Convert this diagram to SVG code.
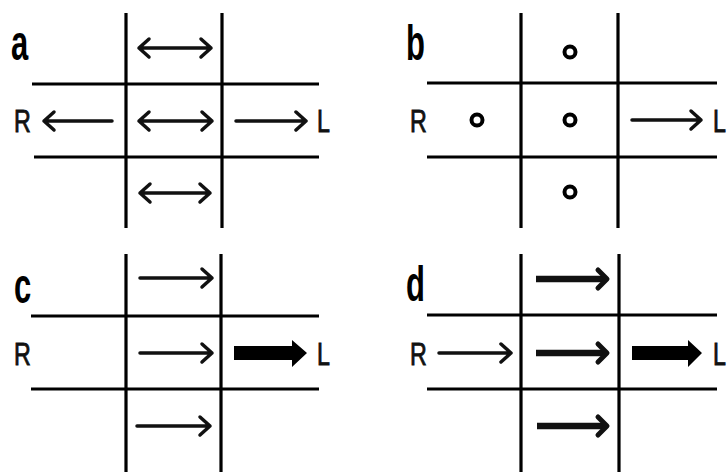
<svg xmlns="http://www.w3.org/2000/svg" width="728" height="472" viewBox="0 0 728 472">
<style>
.grid{stroke:#000;stroke-width:3.2;fill:none;stroke-linecap:butt}
.thin{stroke:#111;stroke-width:3.5;fill:none;stroke-linecap:round;stroke-linejoin:round}
.med{stroke:#111;stroke-width:6.5;fill:none;stroke-linejoin:round}
.medhead{stroke:#111;stroke-width:5;fill:none;stroke-linecap:round;stroke-linejoin:round}
.ring{stroke:#000;stroke-width:4;fill:none}
.lbl{font-family:"Liberation Sans",Arial,sans-serif;font-weight:bold;font-size:50px;fill:#000}
.rl{font-family:"Liberation Sans",Arial,sans-serif;font-size:31px;fill:#111;stroke:#111;stroke-width:0.9}
</style>
<rect width="728" height="472" fill="#fff"/>
<g id="panel-a">
  <path class="grid" d="M126 13V228M222 13V228M32 84H319M34 157H319"/>
  <text class="lbl" transform="translate(11,60) scale(0.62,1)">a</text>
  <text class="rl" transform="translate(14,132) scale(0.75,1)">R</text>
  <text class="rl" transform="translate(317,132) scale(0.75,1)">L</text>
  <path class="thin" d="M139 48H211M149 39L139 48L149 57M201 39L211 48L201 57"/>
  <path class="thin" d="M139 121H212M149 112L139 121L149 130M202 112L212 121L202 130"/>
  <path class="thin" d="M140 193H210M150 184L140 193L150 202M200 184L210 193L200 202"/>
  <path class="thin" d="M112 121H44M54 112L44 121L54 130"/>
  <path class="thin" d="M236 121H306M296 112L306 121L296 130"/>
</g>
<g id="panel-b">
  <path class="grid" d="M521 13V228M618 13V228M427 83H717M427 157H717"/>
  <text class="lbl" transform="translate(406,60) scale(0.62,1)">b</text>
  <text class="rl" transform="translate(410,132) scale(0.75,1)">R</text>
  <text class="rl" transform="translate(713,132) scale(0.75,1)">L</text>
  <circle class="ring" cx="570" cy="52" r="5.5"/>
  <circle class="ring" cx="477" cy="120" r="5.5"/>
  <circle class="ring" cx="570" cy="120" r="5.5"/>
  <circle class="ring" cx="570" cy="192" r="5.5"/>
  <path class="thin" d="M632 120H701M691 111L701 120L691 129"/>
</g>
<g id="panel-c">
  <path class="grid" d="M126 254V472M221 254V472M31 316H319M31 389H319"/>
  <text class="lbl" transform="translate(14,303) scale(0.62,1)">c</text>
  <text class="rl" transform="translate(14,365) scale(0.75,1)">R</text>
  <text class="rl" transform="translate(317,365) scale(0.75,1)">L</text>
  <path class="thin" d="M140 278H212M202 269L212 278L202 287"/>
  <path class="thin" d="M140 353H212M202 344L212 353L202 362"/>
  <path class="thin" d="M137 426H210M200 417L210 426L200 435"/>
  <path fill="#000" d="M234 346H292V340L307 353L292 367V360H234Z"/>
</g>
<g id="panel-d">
  <path class="grid" d="M521 254V472M619 254V472M427 315H717M427 389H717"/>
  <text class="lbl" transform="translate(406,301) scale(0.62,1)">d</text>
  <text class="rl" transform="translate(410,365) scale(0.75,1)">R</text>
  <text class="rl" transform="translate(713,365) scale(0.75,1)">L</text>
  <path class="thin" d="M439 353H511M501 344L511 353L501 362"/>
  <path class="med" d="M536 279H604"/><path class="medhead" d="M598 270L607 279L598 288"/>
  <path class="med" d="M536 353H604"/><path class="medhead" d="M598 344L607 353L598 362"/>
  <path class="med" d="M537 426H604"/><path class="medhead" d="M598 417L607 426L598 435"/>
  <path fill="#000" d="M632 346H688V340L702 353L688 367V360H632Z"/>
</g>
</svg>
